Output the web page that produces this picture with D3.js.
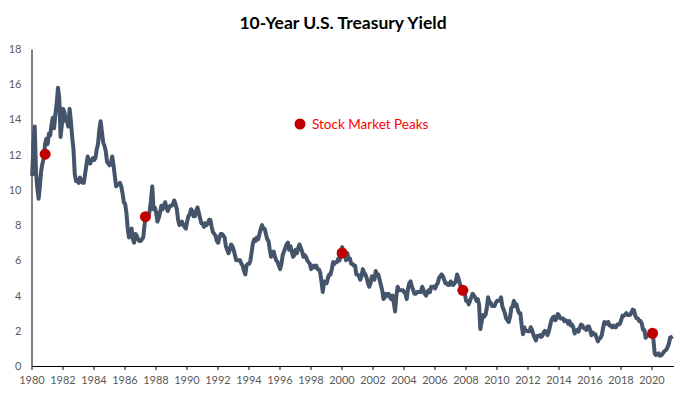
<!DOCTYPE html>
<html>
<head>
<meta charset="utf-8">
<script src="https://cdn.jsdelivr.net/npm/d3@7"></script>
<style>
  body { margin: 0; background: #fff; }
  svg { display: block; font-family: Lato, "Open Sans", sans-serif; }
</style>
</head>
<body>
<svg id="main" width="688" height="397"></svg>
<script>
// monthly 10y yield, one row per year, starting Jan 1980
const startYear = 1980;
const monthlyYield = [
  10.8, 12.6, 13.6, 11.0, 10.1, 9.5, 10.2, 11.1, 11.5, 11.8, 12.6, 12.9,   // 1980
  12.6, 13.2, 13.1, 13.7, 14.1, 13.5, 14.3, 14.9, 15.8, 15.2, 13.0, 13.7,  // 1981
  14.6, 14.4, 13.9, 13.9, 13.6, 14.6, 13.9, 13.0, 12.3, 10.9, 10.5, 10.5,  // 1982
  10.4, 10.7, 10.5, 10.4, 10.4, 10.9, 11.4, 11.9, 11.6, 11.5, 11.7, 11.8,  // 1983
  11.7, 11.8, 12.3, 12.6, 13.4, 13.9, 13.3, 12.7, 12.5, 12.2, 11.6, 11.5,  // 1984
  11.4, 11.5, 11.9, 11.4, 10.8, 10.2, 10.3, 10.3, 10.4, 10.2, 9.8, 9.3,    // 1985
  9.2, 8.7, 7.8, 7.3, 7.7, 7.8, 7.2, 7.0, 7.5, 7.4, 7.2, 7.1,              // 1986
  7.1, 7.2, 7.3, 8.0, 8.6, 8.4, 8.5, 8.8, 9.4, 10.2, 8.9, 9.0,             // 1987
  8.7, 8.2, 8.4, 8.7, 9.1, 8.9, 9.1, 9.3, 9.0, 8.8, 9.0, 9.1,              // 1988
  9.1, 9.2, 9.4, 9.2, 8.9, 8.3, 8.0, 8.1, 8.2, 8.0, 7.9, 7.8,              // 1989
  8.2, 8.5, 8.6, 8.9, 8.8, 8.5, 8.5, 8.8, 9.0, 8.7, 8.4, 8.1,              // 1990
  8.1, 7.9, 8.1, 8.0, 8.1, 8.3, 8.3, 7.9, 7.6, 7.5, 7.4, 7.1,              // 1991
  7.0, 7.3, 7.5, 7.5, 7.4, 7.3, 6.8, 6.6, 6.4, 6.6, 6.9, 6.8,              // 1992
  6.6, 6.3, 6.0, 6.0, 6.0, 6.0, 5.8, 5.7, 5.4, 5.2, 5.7, 5.8,              // 1993
  5.8, 6.0, 6.5, 7.0, 7.2, 7.1, 7.3, 7.2, 7.5, 7.8, 8.0, 7.8,              // 1994
  7.8, 7.5, 7.2, 7.1, 6.6, 6.2, 6.3, 6.5, 6.2, 6.0, 5.9, 5.7,              // 1995
  5.5, 5.8, 6.3, 6.5, 6.7, 6.9, 7.0, 6.6, 6.8, 6.5, 6.2, 6.3,              // 1996
  6.6, 6.4, 6.7, 6.9, 6.7, 6.5, 6.2, 6.3, 6.2, 6.0, 5.9, 5.8,              // 1997
  5.5, 5.6, 5.7, 5.6, 5.7, 5.5, 5.5, 5.3, 4.8, 4.2, 4.8, 4.7,              // 1998
  4.7, 5.0, 5.2, 5.2, 5.5, 5.9, 5.8, 5.9, 5.9, 6.1, 6.0, 6.3,              // 1999
  6.75, 6.5, 6.3, 6.0, 6.4, 6.1, 6.1, 5.8, 5.8, 5.7, 5.7, 5.2,             // 2000
  5.2, 5.1, 4.9, 5.1, 5.5, 5.3, 5.2, 5.0, 4.7, 4.5, 4.7, 5.1,              // 2001
  5.0, 4.9, 5.4, 5.2, 5.2, 4.9, 4.6, 4.3, 3.8, 3.9, 4.1, 4.0,              // 2002
  4.1, 3.9, 3.8, 4.0, 3.6, 3.1, 4.0, 4.5, 4.3, 4.3, 4.3, 4.3,              // 2003
  4.2, 4.1, 3.8, 4.4, 4.7, 4.8, 4.5, 4.3, 4.1, 4.1, 4.2, 4.2,              // 2004
  4.2, 4.2, 4.5, 4.3, 4.1, 4.0, 4.2, 4.3, 4.2, 4.5, 4.5, 4.5,              // 2005
  4.4, 4.6, 4.7, 5.0, 5.1, 5.2, 5.1, 4.9, 4.7, 4.7, 4.6, 4.6,              // 2006
  4.8, 4.7, 4.6, 4.7, 4.8, 5.2, 5.0, 4.7, 4.5, 4.5, 4.2, 4.1,              // 2007
  3.7, 3.7, 3.5, 3.7, 3.9, 4.1, 4.0, 3.9, 3.7, 3.8, 3.5, 2.1,              // 2008
  2.5, 2.9, 2.8, 2.9, 3.3, 3.9, 3.6, 3.6, 3.4, 3.4, 3.4, 3.6,              // 2009
  3.7, 3.7, 3.7, 3.9, 3.4, 3.2, 3.0, 2.7, 2.6, 2.5, 2.8, 3.3,              // 2010
  3.4, 3.7, 3.4, 3.5, 3.2, 3.0, 3.0, 2.3, 1.8, 2.2, 2.0, 2.0,              // 2011
  1.97, 1.97, 2.2, 2.05, 1.8, 1.6, 1.45, 1.7, 1.7, 1.75, 1.65, 1.7,        // 2012
  1.9, 2.0, 1.95, 1.75, 1.95, 2.3, 2.6, 2.75, 2.8, 2.6, 2.7, 2.95,         // 2013
  2.85, 2.7, 2.7, 2.7, 2.55, 2.6, 2.55, 2.4, 2.55, 2.3, 2.35, 2.2,         // 2014
  1.85, 2.0, 2.05, 1.95, 2.2, 2.35, 2.3, 2.15, 2.15, 2.05, 2.25, 2.25,     // 2015
  2.05, 1.75, 1.9, 1.8, 1.8, 1.6, 1.4, 1.55, 1.6, 1.75, 2.15, 2.5,         // 2016
  2.45, 2.4, 2.5, 2.3, 2.3, 2.2, 2.3, 2.2, 2.2, 2.35, 2.35, 2.4,           // 2017
  2.6, 2.85, 2.85, 2.9, 3.0, 2.9, 2.9, 2.9, 3.05, 3.2, 3.15, 2.85,         // 2018
  2.7, 2.7, 2.55, 2.55, 2.4, 2.05, 2.05, 1.6, 1.7, 1.75, 1.8, 1.85,        // 2019
  1.8, 1.5, 0.7, 0.62, 0.66, 0.72, 0.58, 0.6, 0.68, 0.8, 0.87, 0.93,       // 2020
  1.08, 1.28, 1.62, 1.64, 1.68                                             // 2021
];

const xTicks = d3.range(1980, 2021, 2);
const yTicks = d3.range(0, 19, 2);

// stock market peaks, date as decimal year
const peakDates = [1980.88, 1987.35, 2000.04, 2007.83, 2020.07];
const peakYields = [12.03, 8.48, 6.42, 4.3, 1.86];

const title = "10-Year U.S. Treasury Yield";
const legendLabel = "Stock Market Peaks";

/////////////////////////////////////////////////////////

const svg = d3.select("#main");

const x = d3.scaleLinear()
  .domain([1980, 2021.42])
  .range([31.5, 673.5]);

const y = d3.scaleLinear()
  .domain([0, 18])
  .range([366, 49]);

const series = monthlyYield.map((v, i) => ({ t: startYear + (i + 0.5) / 12, v: v }));

// Axes
const xAxis = svg.append("g")
    .attr("transform", "translate(0,366)")
    .call(d3.axisBottom(x)
        .tickValues(xTicks)
        .tickFormat(d3.format("d"))
        .tickSize(4)
        .tickSizeOuter(0)
        .tickPadding(6));

const yAxis = svg.append("g")
    .attr("transform", "translate(31.5,0)")
    .call(d3.axisLeft(y)
        .tickValues(yTicks)
        .tickSize(0)
        .tickPadding(10));

[xAxis, yAxis].forEach(g => {
    g.select(".domain").attr("stroke", "#000");
    g.selectAll(".tick line").attr("stroke", "#000");
    g.selectAll(".tick text")
        .attr("fill", "#595959")
        .style("font-family", "Lato, sans-serif")
        .style("font-size", "11px");
});

// The yield line
svg.append("path")
    .datum(series)
    .attr("fill", "none")
    .attr("stroke", "#44546A")
    .attr("stroke-width", 4)
    .attr("stroke-linejoin", "round")
    .attr("d", d3.line().x(d => x(d.t)).y(d => y(d.v)));

// Peak markers
svg.selectAll(".peak")
    .data(peakDates)
    .enter()
    .append("circle")
    .classed("peak", true)
    .attr("cx", d => x(d))
    .attr("cy", (d, i) => y(peakYields[i]))
    .attr("r", 5.5)
    .attr("fill", "#C00000");

// Legend
svg.append("circle")
    .attr("cx", 300)
    .attr("cy", 124)
    .attr("r", 5.5)
    .attr("fill", "#C00000");

svg.append("text")
    .attr("x", 312)
    .attr("y", 129)
    .attr("fill", "#FF0000")
    .style("font-size", "13.5px")
    .text(legendLabel);

// Title
svg.append("text")
    .attr("x", 343)
    .attr("y", 28.5)
    .attr("text-anchor", "middle")
    .attr("fill", "#000")
    .style("font-weight", "bold")
    .style("font-size", "17.5px")
    .text(title);
</script>
</body>
</html>
